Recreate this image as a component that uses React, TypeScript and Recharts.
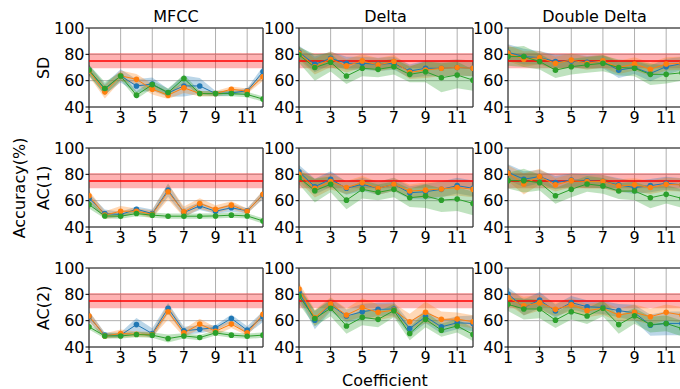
import {
  ComposedChart,
  Line,
  Area,
  XAxis,
  YAxis,
  CartesianGrid,
  ReferenceArea,
  ReferenceLine,
} from 'recharts'

const COEFS = [1, 2, 3, 4, 5, 6, 7, 8, 9, 10, 11, 12]
const X_TICKS = [1, 3, 5, 7, 9, 11]
const Y_TICKS = [40, 60, 80, 100]
const COLUMN_TITLES = ['MFCC', 'Delta', 'Double Delta']
const ROW_LABELS = ['SD', 'AC(1)', 'AC(2)']
const BASELINE = 75
const BASELINE_LOW = 69.5
const BASELINE_HIGH = 81

const COLORS = ['#1f77b4', '#ff7f0e', '#2ca02c']
const FONT = '"DejaVu Sans", sans-serif'

// SD row
const sdMfccBlue = [68, 53.5, 63.7, 56, 57.4, 50.7, 56, 56, 50.2, 50.7, 52.3, 66.8]
const sdMfccOrange = [67.3, 51.5, 63.7, 61, 53.5, 49, 54.6, 50.2, 50.2, 53.5, 52, 63]
const sdMfccGreen = [68, 54, 63.5, 49, 57, 51, 61.7, 50.2, 50.2, 50.2, 49.5, 46]
const sdMfccBlueErr = [4, 4, 5, 5, 5, 3, 8, 6, 2, 2, 2, 4]
const sdMfccOrangeErr = [4, 5, 4, 4, 4, 3, 4, 2, 2, 2, 2, 3]
const sdMfccGreenErr = [4, 5, 3, 3, 3, 3, 3, 2, 2, 2, 2, 2]

const sdDeltaBlue = [81.6, 72.4, 77, 73.2, 73.2, 72.4, 73.2, 67.3, 69.4, 69.4, 70, 69.4]
const sdDeltaOrange = [80.9, 70.6, 76.3, 71.2, 75, 72, 74.5, 66.3, 68, 69.4, 70, 69.4]
const sdDeltaGreen = [79.6, 70, 74, 63.5, 69.4, 68.6, 70.6, 64.8, 66.8, 62.2, 64.3, 60.4]
const sdDeltaBlueErr = [5, 6, 5, 5, 5, 5, 5, 5, 6, 6, 6, 6]
const sdDeltaOrangeErr = [5, 6, 6, 5, 5, 5, 5, 5, 6, 6, 6, 6]
const sdDeltaGreenErr = [6, 10, 7, 6, 6, 6, 6, 6, 8, 11, 10, 8]

const sdDoubleBlue = [81.6, 78.3, 77.5, 74.5, 75, 74, 74.5, 68, 70, 65.5, 70.6, 73]
const sdDoubleOrange = [80.9, 76.3, 77.5, 73.2, 75.7, 73.2, 75, 70, 72.7, 68.6, 72.7, 73.2]
const sdDoubleGreen = [78.3, 78.3, 74.5, 68, 70.6, 72, 73.2, 70, 69.4, 64.8, 64.8, 66]
const sdDoubleBlueErr = [6, 6, 5, 5, 5, 5, 5, 6, 5, 6, 6, 5]
const sdDoubleOrangeErr = [6, 6, 5, 5, 5, 5, 5, 5, 5, 5, 5, 5]
const sdDoubleGreenErr = [7, 8, 6, 6, 6, 6, 6, 6, 6, 8, 7, 6]

// AC(1) row
const ac1MfccBlue = [61.7, 50.2, 49.5, 53.5, 50.2, 68, 51, 56, 52, 54.6, 52.3, 64.3]
const ac1MfccOrange = [63.7, 49, 52, 52, 49.7, 66.8, 51.5, 57.9, 53.5, 56.6, 52, 64.8]
const ac1MfccGreen = [57, 48.4, 48.2, 50.2, 49, 48.2, 48.2, 48.2, 48.4, 49, 48.4, 44.6]
const ac1MfccBlueErr = [4, 3, 2, 2, 3, 5, 3, 3, 2, 3, 2, 3]
const ac1MfccOrangeErr = [4, 3, 4, 2, 3, 6, 4, 4, 3, 3, 2, 3]
const ac1MfccGreenErr = [3, 2, 2, 2, 2, 2, 2, 2, 2, 2, 2, 2]

const ac1DeltaBlue = [82, 70.6, 76.3, 69.4, 72.4, 69.4, 72.4, 66, 66.8, 68.6, 71.4, 69.4]
const ac1DeltaOrange = [80, 69.4, 74.5, 70, 73.7, 69.4, 72.4, 67.3, 68, 68.9, 70, 68.6]
const ac1DeltaGreen = [77.5, 67.6, 72.4, 60.4, 68.6, 66.3, 68.6, 62.2, 63.5, 60.4, 61.2, 57.9]
const ac1DeltaBlueErr = [5, 6, 6, 5, 5, 5, 5, 5, 6, 6, 6, 6]
const ac1DeltaOrangeErr = [5, 7, 6, 5, 5, 5, 5, 5, 6, 6, 6, 6]
const ac1DeltaGreenErr = [5, 9, 6, 7, 7, 6, 6, 7, 9, 9, 9, 9]

const ac1DoubleBlue = [81.6, 76.3, 78.3, 73.7, 75.7, 75, 74.5, 72, 70, 71.4, 73.2, 72]
const ac1DoubleOrange = [80.9, 72.7, 78.3, 72, 75.2, 74.5, 74.5, 71.2, 72, 70, 72.4, 72]
const ac1DoubleGreen = [75.2, 75.2, 73.7, 63.7, 68.6, 72.7, 71.2, 67.3, 67.3, 62.2, 64.8, 61.7]
const ac1DoubleBlueErr = [6, 6, 5, 5, 5, 5, 5, 5, 5, 5, 5, 5]
const ac1DoubleOrangeErr = [6, 8, 6, 5, 5, 5, 5, 5, 5, 5, 5, 5]
const ac1DoubleGreenErr = [6, 9, 6, 6, 6, 6, 6, 6, 7, 8, 7, 7]

// AC(2) row
const ac2MfccBlue = [63, 49, 49, 57, 50.2, 69.4, 52.3, 53.5, 54.6, 61.7, 52.8, 63]
const ac2MfccOrange = [63.5, 48.4, 50.2, 49.7, 49.5, 66.8, 50.7, 57.4, 52, 57.4, 50.7, 64.8]
const ac2MfccGreen = [55.3, 48.4, 48.4, 49.5, 49, 46.4, 48.4, 47.2, 50.7, 49, 48.2, 49]
const ac2MfccBlueErr = [4, 2, 2, 5, 4, 4, 3, 3, 2, 3, 3, 4]
const ac2MfccOrangeErr = [4, 2, 3, 2, 2, 6, 3, 4, 3, 3, 2, 3]
const ac2MfccGreenErr = [2, 2, 2, 2, 2, 3, 2, 2, 2, 2, 2, 2]

const ac2DeltaBlue = [81.6, 60.4, 72, 63.5, 66.8, 68.6, 68.9, 54, 63, 55.3, 58.4, 57.9]
const ac2DeltaOrange = [84, 62.2, 72.7, 64.3, 70, 66.3, 68, 59.2, 66.3, 61, 61.2, 59.2]
const ac2DeltaGreen = [78.8, 61.7, 69.4, 56, 62.5, 61, 67.6, 50.2, 61, 52.8, 56, 49.5]
const ac2DeltaBlueErr = [5, 7, 5, 5, 6, 5, 5, 5, 5, 5, 5, 6]
const ac2DeltaOrangeErr = [5, 6, 5, 5, 7, 6, 5, 6, 8, 6, 5, 5]
const ac2DeltaGreenErr = [6, 6, 6, 6, 6, 6, 5, 5, 6, 5, 5, 5]

const ac2DoubleBlue = [80.3, 70, 75.7, 67.3, 73.7, 70.6, 70, 67.6, 66, 56.6, 57.9, 57.9]
const ac2DoubleOrange = [77.5, 71.2, 73.7, 68.6, 72, 67.6, 69.4, 64.3, 66.3, 63, 66.3, 64.3]
const ac2DoubleGreen = [72.4, 68.9, 68.9, 60.4, 66.8, 63.5, 69.4, 57, 63.7, 57, 57.9, 54]
const ac2DoubleBlueErr = [5, 6, 6, 5, 5, 5, 5, 5, 6, 8, 9, 9]
const ac2DoubleOrangeErr = [5, 7, 6, 5, 5, 5, 5, 5, 6, 6, 6, 6]
const ac2DoubleGreenErr = [5, 8, 7, 6, 6, 6, 6, 7, 6, 6, 6, 6]

const PANELS = [
  [
    [sdMfccBlue, sdMfccOrange, sdMfccGreen, sdMfccBlueErr, sdMfccOrangeErr, sdMfccGreenErr],
    [sdDeltaBlue, sdDeltaOrange, sdDeltaGreen, sdDeltaBlueErr, sdDeltaOrangeErr, sdDeltaGreenErr],
    [sdDoubleBlue, sdDoubleOrange, sdDoubleGreen, sdDoubleBlueErr, sdDoubleOrangeErr, sdDoubleGreenErr],
  ],
  [
    [ac1MfccBlue, ac1MfccOrange, ac1MfccGreen, ac1MfccBlueErr, ac1MfccOrangeErr, ac1MfccGreenErr],
    [ac1DeltaBlue, ac1DeltaOrange, ac1DeltaGreen, ac1DeltaBlueErr, ac1DeltaOrangeErr, ac1DeltaGreenErr],
    [ac1DoubleBlue, ac1DoubleOrange, ac1DoubleGreen, ac1DoubleBlueErr, ac1DoubleOrangeErr, ac1DoubleGreenErr],
  ],
  [
    [ac2MfccBlue, ac2MfccOrange, ac2MfccGreen, ac2MfccBlueErr, ac2MfccOrangeErr, ac2MfccGreenErr],
    [ac2DeltaBlue, ac2DeltaOrange, ac2DeltaGreen, ac2DeltaBlueErr, ac2DeltaOrangeErr, ac2DeltaGreenErr],
    [ac2DoubleBlue, ac2DoubleOrange, ac2DoubleGreen, ac2DoubleBlueErr, ac2DoubleOrangeErr, ac2DoubleGreenErr],
  ],
]

// plot-area layout (pixels)
const PLOT_LEFT = [89, 298.5, 507.5]
const PLOT_TOP = [28.3, 148.3, 268.3]
const PLOT_W = 174
const PLOT_H = 79
const YW = 40
const XH = 26
const MT = 10

function Panel({ series, left, top }: { series: number[][]; left: number; top: number }) {
  const [b, o, g, be, oe, ge] = series
  const data = COEFS.map((x, i) => ({
    x,
    b: b[i],
    o: o[i],
    g: g[i],
    bR: [b[i] - be[i], b[i] + be[i]],
    oR: [o[i] - oe[i], o[i] + oe[i]],
    gR: [g[i] - ge[i], g[i] + ge[i]],
  }))
  const tick = { fill: '#000', fontSize: 16, fontFamily: FONT }
  return (
    <div style={{ position: 'absolute', left: left - YW, top: top - MT }}>
      <ComposedChart
        width={YW + PLOT_W + 2}
        height={MT + PLOT_H + XH}
        data={data}
        margin={{ top: MT, right: 2, left: 0, bottom: 0 }}
      >
        <CartesianGrid stroke="#b0b0b0" strokeWidth={1} />
        <XAxis
          dataKey="x"
          type="number"
          domain={[1, 12]}
          ticks={X_TICKS}
          allowDataOverflow
          height={XH}
          tick={tick}
          tickSize={3.5}
          tickMargin={1}
          axisLine={false}
          tickLine={{ stroke: '#000' }}
          interval={0}
        />
        <YAxis
          type="number"
          domain={[40, 100]}
          ticks={Y_TICKS}
          allowDataOverflow
          width={YW}
          tick={tick}
          tickSize={3.5}
          tickMargin={1}
          axisLine={false}
          tickLine={{ stroke: '#000' }}
          interval={0}
        />
        <ReferenceArea y1={BASELINE_LOW} y2={BASELINE_HIGH} fill="#ff0000" fillOpacity={0.3} stroke="none" />
        <ReferenceLine y={BASELINE} stroke="#ff0000" strokeWidth={1.5} />
        <Area dataKey="bR" type="linear" fill={COLORS[0]} fillOpacity={0.3} stroke="none" isAnimationActive={false} activeDot={false} />
        <Area dataKey="oR" type="linear" fill={COLORS[1]} fillOpacity={0.3} stroke="none" isAnimationActive={false} activeDot={false} />
        <Area dataKey="gR" type="linear" fill={COLORS[2]} fillOpacity={0.3} stroke="none" isAnimationActive={false} activeDot={false} />
        {['b', 'o', 'g'].map((k, i) => (
          <Line
            key={k}
            dataKey={k}
            type="linear"
            stroke={COLORS[i]}
            strokeWidth={1}
            dot={{ r: 2.8, fill: COLORS[i], stroke: COLORS[i], strokeWidth: 0 }}
            activeDot={false}
            isAnimationActive={false}
          />
        ))}
        <ReferenceArea x1={1} x2={12} y1={40} y2={100} fill="none" stroke="#222" strokeWidth={1} />
      </ComposedChart>
    </div>
  )
}

export default function App() {
  return (
    <div
      style={{
        position: 'fixed',
        left: 0,
        top: 0,
        width: 680,
        height: 389,
        overflow: 'hidden',
        background: '#fff',
      }}
    >
      {PANELS.map((row, r) =>
        row.map((series, c) => (
          <Panel key={`${r}-${c}`} series={series} left={PLOT_LEFT[c]} top={PLOT_TOP[r]} />
        ))
      )}
      <svg width={680} height={389} style={{ position: 'absolute', left: 0, top: 0, pointerEvents: 'none' }}>
        <g fontFamily={FONT} fontSize={16} fill="#000">
          {COLUMN_TITLES.map((t, c) => (
            <text key={t} x={PLOT_LEFT[c] + PLOT_W / 2} y={22} textAnchor="middle">
              {t}
            </text>
          ))}
          {ROW_LABELS.map((t, r) => (
            <text
              key={t}
              transform={`translate(49, ${PLOT_TOP[r] + PLOT_H / 2}) rotate(-90)`}
              textAnchor="middle"
            >
              {t}
            </text>
          ))}
          <text transform="translate(25, 188) rotate(-90)" textAnchor="middle">
            Accuracy(%)
          </text>
          <text x={385} y={386} textAnchor="middle">
            Coefficient
          </text>
        </g>
      </svg>
    </div>
  )
}
